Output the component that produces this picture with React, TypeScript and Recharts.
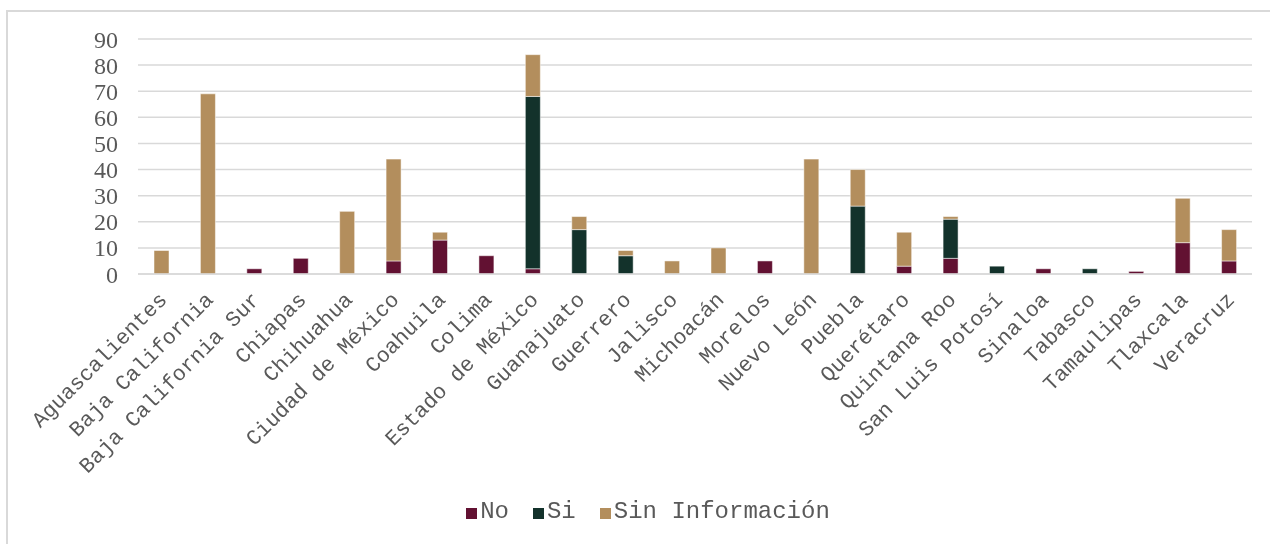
import React from "react";
import { BarChart, Bar, XAxis, YAxis, CartesianGrid, Legend } from "recharts";

const categories = [
  "Aguascalientes",
  "Baja California",
  "Baja California Sur",
  "Chiapas",
  "Chihuahua",
  "Ciudad de México",
  "Coahuila",
  "Colima",
  "Estado de México",
  "Guanajuato",
  "Guerrero",
  "Jalisco",
  "Michoacán",
  "Morelos",
  "Nuevo León",
  "Puebla",
  "Querétaro",
  "Quintana Roo",
  "San Luis Potosí",
  "Sinaloa",
  "Tabasco",
  "Tamaulipas",
  "Tlaxcala",
  "Veracruz",
];

const noValues = [0, 0, 2, 6, 0, 5, 13, 7, 2, 0, 0, 0, 0, 5, 0, 0, 3, 6, 0, 2, 0, 1, 12, 5];
const siValues = [0, 0, 0, 0, 0, 0, 0, 0, 66, 17, 7, 0, 0, 0, 0, 26, 0, 15, 3, 0, 2, 0, 0, 0];
const sinInfoValues = [9, 69, 0, 0, 24, 39, 3, 0, 16, 5, 2, 5, 10, 0, 44, 14, 13, 1, 0, 0, 0, 0, 17, 12];

const yTicks = [0, 10, 20, 30, 40, 50, 60, 70, 80, 90];

const seriesNames = ["No", "Si", "Sin Información"];
const seriesColors = ["#621132", "#13322B", "#B38E5D"];

const data = categories.map((name, i) => ({
  name,
  no: noValues[i],
  si: siValues[i],
  sin: sinInfoValues[i],
}));

const MONO = '"Liberation Mono", "Courier New", monospace';
const SERIF = '"Liberation Serif", "Times New Roman", serif';

const XTick = (props: any) => {
  const { x, y, payload } = props;
  return (
    <text
      x={x}
      y={y}
      dy="0.45em"
      textAnchor="end"
      transform={`rotate(-45, ${x}, ${y})`}
      fontFamily={MONO}
      fontSize={21.5}
      fill="#595959"
    >
      {payload.value}
    </text>
  );
};

const LegendContent = () => (
  <div
    style={{
      display: "flex",
      justifyContent: "center",
      alignItems: "center",
      height: 28,
      fontFamily: MONO,
      fontSize: 24,
      color: "#595959",
    }}
  >
    {seriesNames.map((n, i) => (
      <div key={n} style={{ display: "flex", alignItems: "center", marginRight: i < seriesNames.length - 1 ? 24 : 0 }}>
        <span
          style={{
            display: "inline-block",
            width: 11,
            height: 11,
            background: seriesColors[i],
            marginRight: 3,
            marginTop: 4,
          }}
        />
        <span style={{ whiteSpace: "pre" }}>{n}</span>
      </div>
    ))}
  </div>
);

export default function App() {
  return (
    <div>
      <div
        style={{
          position: "fixed",
          left: 6,
          top: 10,
          width: 1400,
          height: 700,
          borderTop: "2px solid #d9d9d9",
          borderLeft: "2px solid #d9d9d9",
          pointerEvents: "none",
        }}
      />
      <BarChart
        width={1262}
        height={536}
        data={data}
        margin={{ top: 31, right: 18, left: 0, bottom: 30 }}
      >
        <CartesianGrid vertical={false} stroke="#d9d9d9" strokeWidth={1.5} />
        <XAxis
          dataKey="name"
          interval={0}
          height={240}
          tick={<XTick />}
          tickLine={false}
          tickSize={0}
          tickMargin={20}
          axisLine={{ stroke: "#d9d9d9", strokeWidth: 1.5 }}
        />
        <YAxis
          width={130}
          domain={[0, 90]}
          ticks={yTicks}
          interval={0}
          axisLine={false}
          tickLine={false}
          tickSize={0}
          tickMargin={20}
          tick={{ fontFamily: SERIF, fontSize: 24, fill: "#595959" }}
        />
        <Legend
          layout="vertical"
          verticalAlign="middle"
          align="center"
          content={<LegendContent />}
          wrapperStyle={{ position: "absolute", top: 489, left: 18, width: 1244, height: 28 }}
        />
        <Bar dataKey="no" name={seriesNames[0]} stackId="a" fill={seriesColors[0]} barSize={15} stroke="#ffffff" strokeWidth={0.5} isAnimationActive={false} />
        <Bar dataKey="si" name={seriesNames[1]} stackId="a" fill={seriesColors[1]} barSize={15} stroke="#ffffff" strokeWidth={0.5} isAnimationActive={false} />
        <Bar dataKey="sin" name={seriesNames[2]} stackId="a" fill={seriesColors[2]} barSize={15} stroke="#ffffff" strokeWidth={0.5} isAnimationActive={false} />
      </BarChart>
    </div>
  );
}
